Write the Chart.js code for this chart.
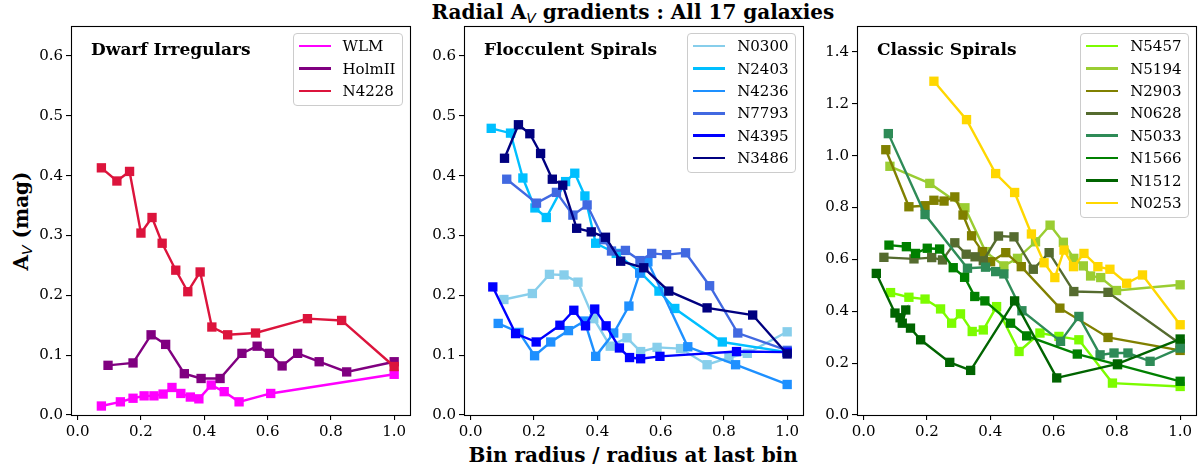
<!DOCTYPE html>
<html>
<head>
<meta charset="utf-8">
<script src="https://cdn.jsdelivr.net/npm/chart.js@4.4.1/dist/chart.umd.min.js"></script>
<style>
  html, body { margin: 0; padding: 0; background: #fff; }
  body { position: relative; width: 1203px; height: 472px; overflow: hidden; font-family: "DejaVu Serif", serif; color: #000; }
  canvas { position: absolute; }
  .txt { position: absolute; white-space: nowrap; line-height: 1; }
  .bold { font-weight: bold; }
  .sub { font-family: "DejaVu Sans", sans-serif; font-style: italic; font-weight: normal; font-size: 0.7em; position: relative; top: 0.28em; }
  .legend { position: absolute; border: 1px solid #cccccc; border-radius: 4px; background: rgba(255,255,255,0.85); padding: 1px 6px 3px 5px; font-size: 15px; }
  .row { height: 22.4px; display: flex; align-items: center; white-space: nowrap; }
  .swatch { width: 32px; height: 2.6px; margin-right: 12px; flex: none; }
</style>
</head>
<body>
<div class="txt bold" id="suptitle" style="font-size:20px;">Radial A<span class="sub">V</span> gradients : All 17 galaxies</div>
<div class="txt bold" id="ylabel" style="font-size:20px;">A<span class="sub">V</span> (mag)</div>
<div class="txt bold" id="xlabel" style="font-size:20px;">Bin radius / radius at last bin</div>
<script>
// ---- Dwarf irregulars: bin radius (normalised) and A_V (mag)
const wlmR   = [0.075, 0.135, 0.175, 0.210, 0.241, 0.270, 0.298, 0.326, 0.356, 0.383, 0.422, 0.463, 0.510, 0.610, 1.0];
const wlmAv  = [0.015, 0.022, 0.028, 0.032, 0.032, 0.035, 0.046, 0.036, 0.030, 0.027, 0.050, 0.039, 0.022, 0.036, 0.068];
const holmR  = [0.096, 0.175, 0.232, 0.278, 0.337, 0.390, 0.450, 0.519, 0.567, 0.606, 0.646, 0.695, 0.763, 0.850, 1.0];
const holmAv = [0.083, 0.087, 0.134, 0.118, 0.069, 0.061, 0.061, 0.103, 0.115, 0.103, 0.082, 0.103, 0.089, 0.072, 0.089];
const n4228R  = [0.075, 0.124, 0.164, 0.200, 0.235, 0.267, 0.310, 0.348, 0.387, 0.424, 0.474, 0.562, 0.726, 0.834, 1.0];
const n4228Av = [0.413, 0.391, 0.407, 0.304, 0.330, 0.287, 0.242, 0.206, 0.239, 0.147, 0.134, 0.137, 0.161, 0.158, 0.081];

// ---- Flocculent spirals
const n0300R  = [0.105, 0.195, 0.249, 0.295, 0.339, 0.389, 0.441, 0.494, 0.537, 0.589, 0.663, 0.747, 0.816, 0.874, 1.0];
const n0300Av = [0.193, 0.203, 0.235, 0.234, 0.222, 0.161, 0.115, 0.129, 0.106, 0.113, 0.111, 0.084, 0.096, 0.103, 0.139];
const n2403R  = [0.065, 0.126, 0.165, 0.203, 0.239, 0.300, 0.329, 0.361, 0.395, 0.460, 0.537, 0.595, 0.645, 0.795, 1.0];
const n2403Av = [0.479, 0.471, 0.396, 0.346, 0.330, 0.390, 0.404, 0.366, 0.287, 0.270, 0.238, 0.207, 0.178, 0.122, 0.105];
const n4236R  = [0.087, 0.153, 0.202, 0.253, 0.309, 0.360, 0.395, 0.452, 0.500, 0.534, 0.560, 0.686, 0.837, 1.0];
const n4236Av = [0.153, 0.138, 0.099, 0.122, 0.141, 0.157, 0.098, 0.137, 0.182, 0.237, 0.256, 0.114, 0.084, 0.051];
const n7793R  = [0.114, 0.208, 0.271, 0.323, 0.368, 0.421, 0.445, 0.489, 0.535, 0.572, 0.619, 0.679, 0.755, 0.844, 1.0];
const n7793Av = [0.394, 0.354, 0.372, 0.334, 0.351, 0.293, 0.274, 0.275, 0.258, 0.270, 0.268, 0.271, 0.216, 0.137, 0.108];
const n4395R  = [0.070, 0.142, 0.207, 0.282, 0.326, 0.363, 0.392, 0.428, 0.470, 0.502, 0.537, 0.598, 0.840, 1.0];
const n4395Av = [0.214, 0.136, 0.122, 0.150, 0.175, 0.149, 0.177, 0.149, 0.112, 0.096, 0.094, 0.098, 0.106, 0.105];
const n3486R  = [0.107, 0.151, 0.187, 0.221, 0.258, 0.291, 0.335, 0.381, 0.426, 0.474, 0.547, 0.626, 0.747, 0.891, 1.0];
const n3486Av = [0.429, 0.485, 0.470, 0.437, 0.394, 0.384, 0.312, 0.306, 0.297, 0.257, 0.246, 0.207, 0.179, 0.167, 0.102];

// ---- Classic spirals
const n5457R  = [0.085, 0.143, 0.194, 0.243, 0.278, 0.306, 0.343, 0.378, 0.420, 0.491, 0.557, 0.617, 0.680, 0.786, 1.0];
const n5457Av = [0.472, 0.454, 0.447, 0.409, 0.354, 0.390, 0.322, 0.328, 0.418, 0.245, 0.316, 0.303, 0.290, 0.123, 0.110];
const n5194R  = [0.083, 0.209, 0.320, 0.385, 0.443, 0.486, 0.543, 0.589, 0.631, 0.664, 0.694, 0.717, 0.749, 0.799, 1.0];
const n5194Av = [0.959, 0.893, 0.799, 0.630, 0.575, 0.604, 0.668, 0.732, 0.666, 0.604, 0.575, 0.536, 0.530, 0.480, 0.502];
const n2903R  = [0.070, 0.143, 0.194, 0.222, 0.254, 0.288, 0.314, 0.341, 0.375, 0.401, 0.449, 0.498, 0.620, 0.772, 1.0];
const n2903Av = [1.023, 0.803, 0.807, 0.828, 0.825, 0.841, 0.771, 0.691, 0.630, 0.591, 0.626, 0.572, 0.412, 0.299, 0.249];
const n0628R  = [0.064, 0.159, 0.215, 0.249, 0.288, 0.324, 0.352, 0.378, 0.426, 0.475, 0.536, 0.586, 0.664, 0.772, 1.0];
const n0628Av = [0.608, 0.602, 0.607, 0.598, 0.664, 0.620, 0.610, 0.595, 0.690, 0.687, 0.562, 0.626, 0.476, 0.473, 0.275];
const n5033R  = [0.078, 0.194, 0.328, 0.385, 0.417, 0.443, 0.500, 0.622, 0.680, 0.747, 0.791, 0.835, 0.905, 1.0];
const n5033Av = [1.085, 0.773, 0.566, 0.570, 0.553, 0.544, 0.402, 0.284, 0.380, 0.232, 0.239, 0.239, 0.207, 0.258];
const n1566R  = [0.080, 0.135, 0.164, 0.201, 0.240, 0.283, 0.319, 0.351, 0.383, 0.464, 0.515, 0.675, 0.802, 1.0];
const n1566Av = [0.655, 0.649, 0.623, 0.643, 0.640, 0.568, 0.531, 0.457, 0.440, 0.354, 0.305, 0.235, 0.194, 0.130];
const n1512R  = [0.040, 0.099, 0.115, 0.133, 0.122, 0.148, 0.180, 0.272, 0.338, 0.477, 0.610, 0.802, 1.0];
const n1512Av = [0.546, 0.393, 0.375, 0.405, 0.354, 0.335, 0.290, 0.203, 0.172, 0.440, 0.143, 0.197, 0.293];
const n0253R  = [0.222, 0.325, 0.417, 0.477, 0.530, 0.570, 0.604, 0.633, 0.663, 0.696, 0.740, 0.778, 0.831, 0.881, 1.0];
const n0253Av = [1.287, 1.139, 0.931, 0.858, 0.698, 0.587, 0.530, 0.636, 0.572, 0.623, 0.572, 0.562, 0.508, 0.540, 0.348];

// ---- Tick labels
const xTicks     = [0.0, 0.2, 0.4, 0.6, 0.8, 1.0];
const yTicksLow  = [0.0, 0.1, 0.2, 0.3, 0.4, 0.5, 0.6];
const yTicksHigh = [0.0, 0.2, 0.4, 0.6, 0.8, 1.0, 1.2, 1.4];

const panels = [
  { title: 'Dwarf Irregulars', yMax: 0.65, yTicks: yTicksLow, series: [
    ['WLM',    wlmR,  wlmAv,  '#FF00FF'],
    ['HolmII', holmR, holmAv, '#800080'],
    ['N4228',  n4228R, n4228Av, '#DC143C'] ] },
  { title: 'Flocculent Spirals', yMax: 0.65, yTicks: yTicksLow, series: [
    ['N0300', n0300R, n0300Av, '#87CEEB'],
    ['N2403', n2403R, n2403Av, '#00BFFF'],
    ['N4236', n4236R, n4236Av, '#1E90FF'],
    ['N7793', n7793R, n7793Av, '#4169E1'],
    ['N4395', n4395R, n4395Av, '#0000FF'],
    ['N3486', n3486R, n3486Av, '#000080'] ] },
  { title: 'Classic Spirals', yMax: 1.5, yTicks: yTicksHigh, series: [
    ['N5457', n5457R, n5457Av, '#7CFC00'],
    ['N5194', n5194R, n5194Av, '#9ACD32'],
    ['N2903', n2903R, n2903Av, '#808000'],
    ['N0628', n0628R, n0628Av, '#556B2F'],
    ['N5033', n5033R, n5033Av, '#2E8B57'],
    ['N1566', n1566R, n1566Av, '#008000'],
    ['N1512', n1512R, n1512Av, '#006400'],
    ['N0253', n0253R, n0253Av, '#FFD700'] ] }
];

// Axes boxes on the page
const frameLefts = [71, 464, 857];
const frameTop = 26, frameW = 339, frameH = 389;
const YW = 52, XH = 30;
const tickFont = { family: 'DejaVu Serif', size: 15 };

// full box around each axes
const framePlugin = {
  id: 'frameBox',
  afterDatasetsDraw(chart) {
    const a = chart.chartArea, ctx = chart.ctx;
    ctx.save();
    ctx.strokeStyle = '#000';
    ctx.lineWidth = 1.1;
    ctx.strokeRect(Math.round(a.left) + 0.5, Math.round(a.top) + 0.5,
                   Math.round(a.right - a.left), Math.round(a.bottom - a.top));
    ctx.restore();
  }
};

function axisCommon(ticks) {
  return {
    type: 'linear',
    afterBuildTicks: s => { s.ticks = ticks.map(v => ({ value: v })); },
    grid: { drawOnChartArea: false, drawTicks: true, tickLength: 5, color: '#000', lineWidth: 1.1 },
    border: { display: false },
    ticks: { font: tickFont, color: '#000', padding: 3, maxRotation: 0, autoSkip: false,
             callback: v => Number(v).toFixed(1) }
  };
}

function makeConfig(p) {
  const n = p.series.length;
  return {
    type: 'line',
    data: {
      datasets: p.series.map(([name, r, av, col], i) => ({
        label: name,
        data: r.map((x, k) => ({ x: x, y: av[k] })),
        borderColor: col,
        backgroundColor: col,
        borderWidth: 2.4,
        pointStyle: 'rect',
        pointRadius: 6.6,
        pointHoverRadius: 6.6,
        pointBorderWidth: 0,
        pointBackgroundColor: col,
        tension: 0,
        fill: false,
        order: n - i
      }))
    },
    options: {
      responsive: false,
      animation: false,
      devicePixelRatio: 1,
      events: [],
      layout: { padding: { top: 14, right: 10, left: 0, bottom: 0 } },
      plugins: { legend: { display: false }, tooltip: { enabled: false }, title: { display: false } },
      scales: {
        x: Object.assign(axisCommon(xTicks), { min: -0.021, max: 1.05, afterFit: s => { s.height = XH; } }),
        y: Object.assign(axisCommon(p.yTicks), { min: 0, max: p.yMax, afterFit: s => { s.width = YW; } })
      }
    },
    plugins: [framePlugin]
  };
}

panels.forEach((p, idx) => {
  const fl = frameLefts[idx];
  const canvas = document.createElement('canvas');
  document.body.appendChild(canvas);
  canvas.width = YW + frameW + 10;
  canvas.height = 14 + frameH + XH;
  // first pass: find where the plot area lands, then size the canvas so it matches the box
  let chart = new Chart(canvas, makeConfig(p));
  const a = chart.chartArea;
  const dl = a.left, dt = a.top, dr = canvas.width - a.right, db = canvas.height - a.bottom;
  chart.destroy();
  canvas.width = Math.round(dl + frameW + dr);
  canvas.height = Math.round(dt + frameH + db);
  canvas.style.width = canvas.width + 'px';
  canvas.style.height = canvas.height + 'px';
  chart = new Chart(canvas, makeConfig(p));
  const b = chart.chartArea;
  canvas.style.left = (fl - b.left) + 'px';
  canvas.style.top = (frameTop - b.top) + 'px';

  // panel heading
  const t = document.createElement('div');
  t.className = 'txt bold';
  t.style.fontSize = '17px';
  t.style.left = (fl + 20) + 'px';
  t.style.top = '41px';
  t.textContent = p.title;
  document.body.appendChild(t);

  // legend in the upper right corner of the axes
  const lg = document.createElement('div');
  lg.className = 'legend';
  lg.style.right = (1203 - (fl + frameW - 7.5)) + 'px';
  lg.style.top = '33px';
  p.series.forEach(([name, , , col]) => {
    const row = document.createElement('div');
    row.className = 'row';
    const sw = document.createElement('span');
    sw.className = 'swatch';
    sw.style.background = col;
    const lab = document.createElement('span');
    lab.textContent = name;
    row.appendChild(sw);
    row.appendChild(lab);
    lg.appendChild(row);
  });
  document.body.appendChild(lg);
});

// figure-level labels
function centerAt(el, cx, cy, rot) {
  const w = el.offsetWidth, h = el.offsetHeight;
  el.style.left = (cx - w / 2) + 'px';
  el.style.top = (cy - h / 2) + 'px';
  if (rot) el.style.transform = 'rotate(' + rot + 'deg)';
}
centerAt(document.getElementById('suptitle'), 633, 12);
centerAt(document.getElementById('xlabel'), 633, 455);
centerAt(document.getElementById('ylabel'), 20, 221, -90);
</script>
</body>
</html>
